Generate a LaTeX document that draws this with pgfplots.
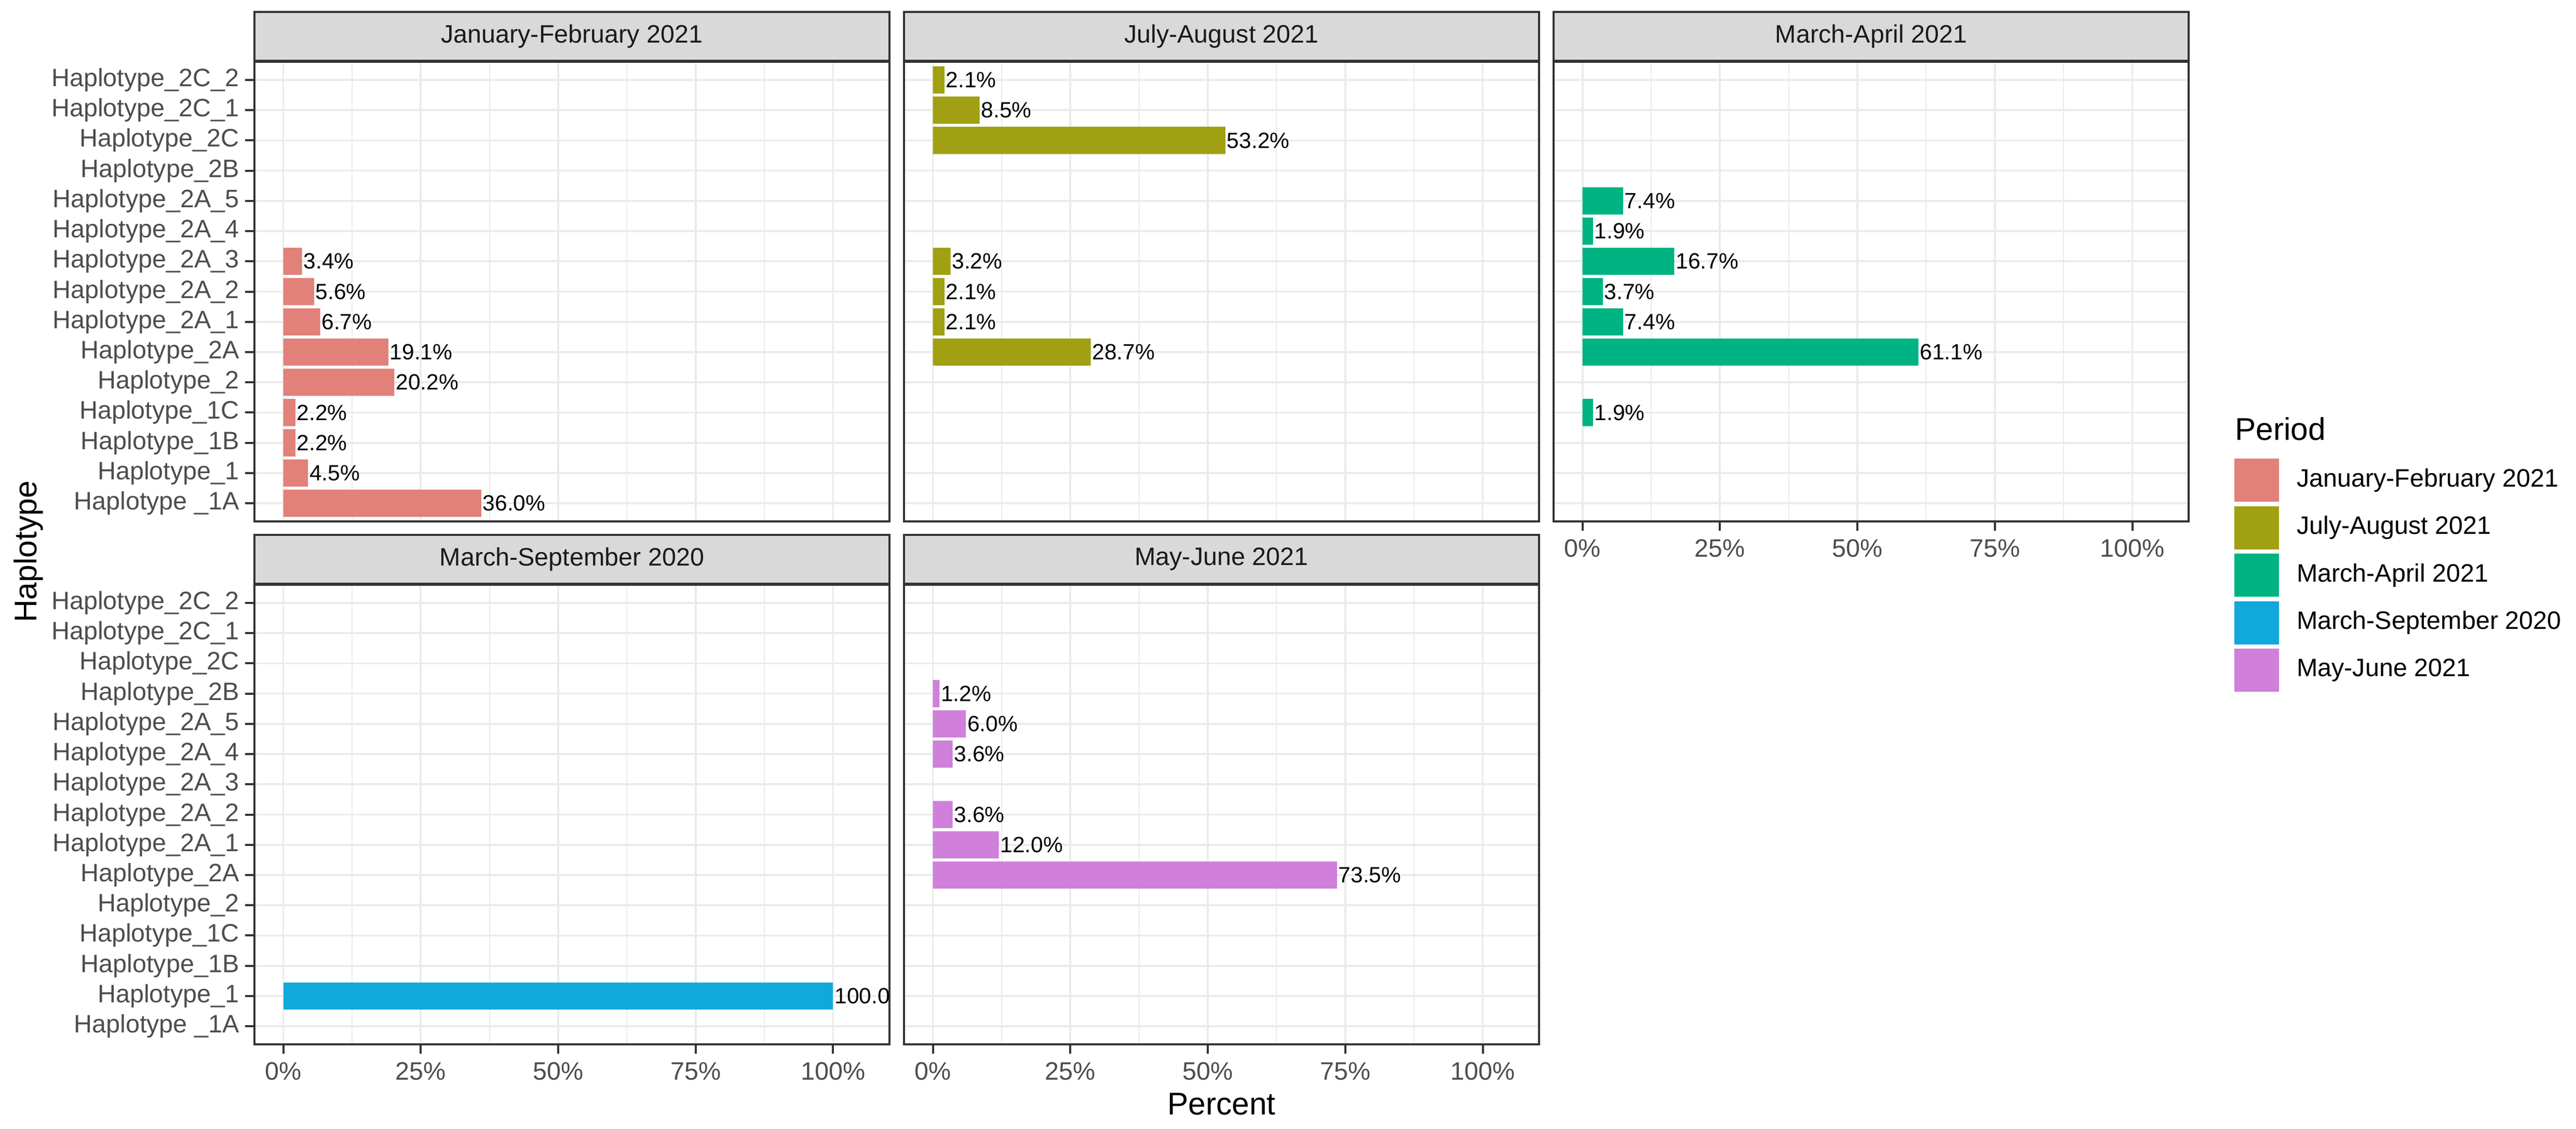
\documentclass[border=0pt]{standalone}
\usepackage{fontspec}
\setmainfont{Liberation Sans}
\usepackage{pgfplots}
\pgfplotsset{compat=1.18}

\definecolor{grey10}{HTML}{1A1A1A}
\definecolor{grey20}{HTML}{333333}
\definecolor{grey30}{HTML}{4D4D4D}
\definecolor{grey85}{HTML}{D9D9D9}
\definecolor{grey92}{HTML}{EBEBEB}
\definecolor{cJF}{HTML}{E2807A}
\definecolor{cJA}{HTML}{A0A012}
\definecolor{cMA}{HTML}{00B383}
\definecolor{cMS}{HTML}{11A8DC}
\definecolor{cMJ}{HTML}{D07FDB}

\newcommand\ticksfont{\fontsize{9.7pt}{11pt}\selectfont}
\newcommand\stripfont{\fontsize{9.7pt}{11pt}\selectfont}
\newcommand\labfont{\fontsize{8.5pt}{10pt}\selectfont}
\newcommand\titlefont{\fontsize{12.1pt}{14pt}\selectfont}

\pgfplotsset{
  facet/.style={
    scale only axis, width=244.6pt, height=177pt,
    xmin=-5.25, xmax=110.25, ymin=-0.6, ymax=14.6,
    xtick={0,25,50,75,100}, minor xtick={12.5,37.5,62.5,87.5},
    ytick={0,...,14},
    xmajorgrids, xminorgrids, ymajorgrids,
    major grid style={draw=grey92, line width=0.75pt},
    minor grid style={draw=grey92, line width=0.4pt},
    axis line style={draw=grey20, line width=0.8pt},
    tick align=outside, major tick length=3.6pt, minor tick length=0pt,
    tick style={draw=grey20, line width=0.8pt},
    xtick pos=left, ytick pos=left,
    xbar, bar width=0.9, bar shift=0pt,
    enlargelimits=false,
    ticklabel style={font=\ticksfont, text=grey30},
    xticklabels={0\%,25\%,50\%,75\%,100\%},
    yticklabels={Haplotype \_1A,Haplotype\_1,Haplotype\_1B,Haplotype\_1C,Haplotype\_2,Haplotype\_2A,Haplotype\_2A\_1,Haplotype\_2A\_2,Haplotype\_2A\_3,Haplotype\_2A\_4,Haplotype\_2A\_5,Haplotype\_2B,Haplotype\_2C,Haplotype\_2C\_1,Haplotype\_2C\_2},
    yticklabel style={anchor=east, inner sep=0pt, xshift=-2.1pt},
    xticklabel style={anchor=north, inner sep=0pt, yshift=-3.1pt},
    point meta=x,
    nodes near coords={\pgfmathprintnumber[fixed,fixed zerofill,precision=1,assume math mode=true]{\pgfplotspointmeta}\%},
    nodes near coords style={anchor=west, inner sep=0.4pt, font=\labfont, text=black},
    every axis title shift=0pt,
    title style={at={(0.5,1)}, anchor=south, yshift=0pt, draw=grey20, fill=grey85,
      line width=0.8pt, minimum width=244.6pt, minimum height=18.8pt, inner sep=0pt,
      font=\stripfont, text=grey10},
  },
  noxaxis/.style={xticklabels={}, xtick style={draw=none}},
  noyaxis/.style={yticklabels={}, ytick style={draw=none}},
}

\begin{document}
\begin{tikzpicture}
\path[use as bounding box] (0,0) rectangle (992.2pt,434.6pt);

% Top row
\begin{axis}[facet, noxaxis, at={(98pt,410.8pt)}, anchor=north west,
  title={January-February 2021}]
\addplot[fill=cJF, draw=none] coordinates {
 (36.0,0) (4.5,1) (2.2,2) (2.2,3) (20.2,4) (19.1,5) (6.7,6) (5.6,7) (3.4,8)};
\end{axis}

\begin{axis}[facet, noxaxis, noyaxis, at={(348.2pt,410.8pt)}, anchor=north west,
  title={July-August 2021}]
\addplot[fill=cJA, draw=none] coordinates {
 (28.7,5) (2.1,6) (2.1,7) (3.2,8) (53.2,12) (8.5,13) (2.1,14)};
\end{axis}

\begin{axis}[facet, noyaxis, at={(598.4pt,410.8pt)}, anchor=north west,
  title={March-April 2021}]
\addplot[fill=cMA, draw=none] coordinates {
 (1.9,3) (61.1,5) (7.4,6) (3.7,7) (16.7,8) (1.9,9) (7.4,10)};
\end{axis}

% Bottom row
\begin{axis}[facet, at={(98pt,209.4pt)}, anchor=north west,
  title={March-September 2020}]
\addplot[fill=cMS, draw=none,
  nodes near coords={\pgfmathprintnumber[fixed,fixed zerofill,precision=1,assume math mode=true]{\pgfplotspointmeta}}]
  coordinates {(100.0,1)};
\end{axis}

\begin{axis}[facet, noyaxis, at={(348.2pt,209.4pt)}, anchor=north west,
  title={May-June 2021}]
\addplot[fill=cMJ, draw=none] coordinates {
 (73.5,5) (12.0,6) (3.6,7) (3.6,9) (6.0,10) (1.2,11)};
\end{axis}

% axis titles
\node[font=\titlefont, anchor=center] at (470.5pt,9.4pt) {Percent};
\node[font=\titlefont, anchor=center, rotate=90] at (11pt,222.1pt) {Haplotype};

% legend
\node[font=\titlefont, anchor=west, inner sep=0pt] at (860.6pt,269.4pt) {Period};
\foreach \c/\t [count=\i from 0] in {cJF/January-February 2021, cJA/July-August 2021, cMA/March-April 2021, cMS/March-September 2020, cMJ/May-June 2021}{
  \pgfmathsetmacro{\ytop}{434.6-176.6-18.3*\i}
  \fill[\c] (860.6pt,\ytop pt) rectangle (877.8pt,\ytop pt-16.6pt);
  \node[font=\ticksfont, anchor=west, inner sep=0pt] at (884.4pt,\ytop pt-8.3pt) {\t};
}
\end{tikzpicture}
\end{document}
